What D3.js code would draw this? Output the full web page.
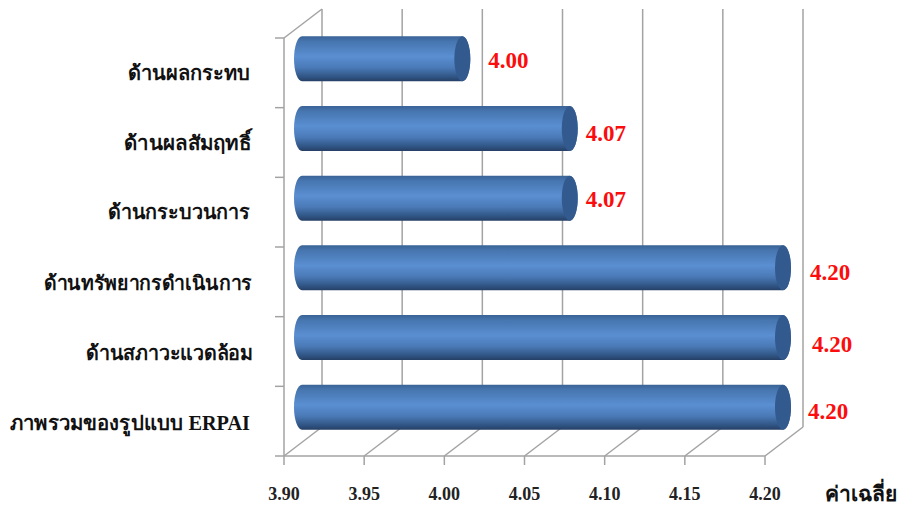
<!DOCTYPE html>
<html><head><meta charset="utf-8">
<script src="https://cdnjs.cloudflare.com/ajax/libs/d3/7.8.5/d3.min.js"></script>
<style>html,body{margin:0;padding:0;background:#fff}svg{display:block}
text{font-family:"Liberation Serif","Noto Sans",serif;font-weight:700}</style></head>
<body><svg id="c" width="900" height="505"></svg>
<script>
const categories=["ด้านผลกระทบ","ด้านผลสัมฤทธิ์","ด้านกระบวนการ","ด้านทรัพยากรดำเนินการ","ด้านสภาวะแวดล้อม","ภาพรวมของรูปแบบ ERPAI"];
const values=[4.00,4.067,4.067,4.20,4.20,4.20];
const valueLabels=["4.00","4.07","4.07","4.20","4.20","4.20"];
const ticks=[3.90,3.95,4.00,4.05,4.10,4.15,4.20];
const axisTitle="ค่าเฉลี่ย";
const labelNudge=[[1,2],[-9,5],[-9,2],[2,5],[4,7],[0,5]];
const catNudge=[[-2,7],[-1,7],[-2,7],[0,8],[1,8],[-2,9]];
const catWidths=[122,127,142,208,167,240];

const svg=d3.select("#c");
const x=d3.scaleLinear().domain([3.9,4.2]).range([284,765]);
const y=d3.scaleBand().domain(categories).range([38,456]).padding(0);
const dx=38,dy=-29,gc="#a3a3a3";
const defs=svg.append("defs");
const g=defs.append("linearGradient").attr("id","cyl").attr("x1",0).attr("x2",0).attr("y1",0).attr("y2",1);
[[0,"#3a6396"],[.12,"#4776b0"],[.45,"#5a8fd2"],[.7,"#4a79b6"],[.9,"#305584"],[1,"#263f66"]].forEach(s=>g.append("stop").attr("offset",s[0]).attr("stop-color",s[1]));

const grid=svg.append("g").attr("stroke",gc).attr("stroke-width",1.5).attr("fill","none");
ticks.forEach(t=>{
  grid.append("line").attr("x1",x(t)+dx).attr("x2",x(t)+dx).attr("y1",y.range()[0]+dy).attr("y2",y.range()[1]+dy);
  grid.append("line").attr("x1",x(t)).attr("x2",x(t)+dx).attr("y1",y.range()[1]).attr("y2",y.range()[1]+dy);
  grid.append("line").attr("x1",x(t)).attr("x2",x(t)).attr("y1",y.range()[1]).attr("y2",y.range()[1]+9);
});
grid.append("line").attr("x1",x(3.9)).attr("x2",x(4.2)).attr("y1",456).attr("y2",456);
grid.append("line").attr("x1",x(3.9)).attr("x2",x(3.9)).attr("y1",38).attr("y2",456);
grid.append("line").attr("x1",x(3.9)).attr("x2",x(3.9)+dx).attr("y1",38).attr("y2",38+dy);
[...categories.map(c=>y(c)),456].forEach(v=>grid.append("line").attr("x1",275).attr("x2",x(3.9)).attr("y1",v).attr("y2",v));

const depth=18,rx=8,h=45,lift=-14;
categories.forEach((c,i)=>{
  const cy=y(c)+y.bandwidth()/2+lift, xr=x(values[i])+depth, xl=x(3.9)+depth, top=cy-h/2, bot=cy+h/2;
  svg.append("path").attr("fill","url(#cyl)")
    .attr("d",`M${xl},${top}L${xr},${top}A${rx},${h/2} 0 0 1 ${xr},${bot}L${xl},${bot}A${rx},${h/2} 0 0 1 ${xl},${top}Z`);
  svg.append("ellipse").attr("cx",xr).attr("cy",cy).attr("rx",rx).attr("ry",h/2).attr("fill","#335a8e");
  svg.append("text").attr("x",xr+rx+17+labelNudge[i][0]).attr("y",cy+7+labelNudge[i][1])
    .attr("fill","#fb0d0d").attr("font-size",23).text(valueLabels[i]);
  svg.append("text").attr("x",252+catNudge[i][0]).attr("y",y(c)+y.bandwidth()/2+catNudge[i][1])
    .attr("text-anchor","end").attr("fill","#111").attr("font-size",20)
    .attr("textLength",catWidths[i]).attr("lengthAdjust","spacingAndGlyphs").text(c);
});
ticks.forEach(t=>svg.append("text").attr("x",x(t)).attr("y",500).attr("text-anchor","middle").attr("fill","#222").attr("font-size",18).text(t.toFixed(2)));
svg.append("text").attr("x",825).attr("y",501).attr("fill","#111").attr("font-size",21).text(axisTitle);
</script></body></html>
